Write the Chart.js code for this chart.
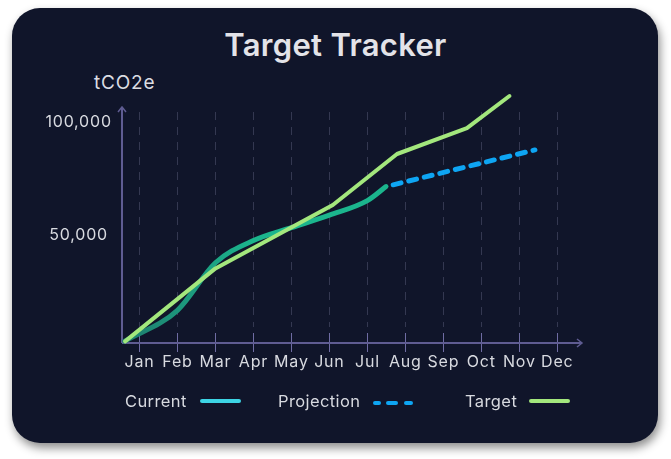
<!DOCTYPE html>
<html>
<head>
<meta charset="utf-8">
<script src="https://cdn.jsdelivr.net/npm/chart.js@4.4.0/dist/chart.umd.min.js"></script>
<style>
  html, body { margin: 0; padding: 0; width: 671px; height: 459px; overflow: hidden; background: #fff; font-family: Inter, sans-serif; }
  #card { position: absolute; left: 12px; top: 8px; width: 646px; height: 435px; background: #10152a; border-radius: 28px; box-shadow: 2px 5px 10px rgba(0,0,0,0.45); }
  #title { position: absolute; left: 0; top: 29px; width: 671px; text-align: center; color: #e3e3e8; font-size: 31px; line-height: 31px; font-weight: 600; letter-spacing: 0.3px; }
  #unit { position: absolute; left: 94px; top: 73px; color: #dcdde3; font-size: 19px; line-height: 19px; letter-spacing: 0.8px; }
  #wrap { position: absolute; left: 0; top: 0; width: 671px; height: 459px; }
  .lg { position: absolute; color: #d8dae0; font-size: 16.5px; line-height: 16.5px; top: 393px; letter-spacing: 0.4px; }
  .sw { position: absolute; height: 4px; border-radius: 2px; }
</style>
</head>
<body>
<div id="card"></div>
<div id="title">Target Tracker</div>
<div id="unit">tCO2e</div>
<div id="wrap"><canvas id="chart"></canvas></div>

<div class="lg" style="left:125px">Current</div>
<div class="sw" style="left:200px;top:399px;width:41px;background:#3dd4e4"></div>
<div class="lg" style="left:278px">Projection</div>
<div class="sw" style="left:373px;top:401px;width:8px;background:#0ea5f3"></div>
<div class="sw" style="left:386px;top:401px;width:12px;background:#0ea5f3"></div>
<div class="sw" style="left:404px;top:401px;width:9px;background:#0ea5f3"></div>
<div class="lg" style="left:465px">Target</div>
<div class="sw" style="left:529px;top:399px;width:41px;background:#a3e77d"></div>

<script>
const months = ['Jan', 'Feb', 'Mar', 'Apr', 'May', 'Jun', 'Jul', 'Aug', 'Sep', 'Oct', 'Nov', 'Dec'];
const monthTicks = [1, 2, 3, 4, 5, 6, 7, 8, 9, 10, 11, 12];
const yTicks = [50000, 100000];

// x positions are in months (Jan = 1)
const currentMonths = [0.61, 2.0, 3.0, 4.0, 5.0, 6.0, 7.0, 7.49];
const currentValues = [3350, 17000, 38000, 47800, 53500, 59000, 65400, 71600];

const projectionMonths = [7.68, 11.41];
const projectionValues = [72400, 87800];

const targetMonths = [0.62, 3.0, 6.09, 7.78, 9.62, 10.74];
const targetValues = [3300, 35500, 63500, 86000, 97400, 111600];

const toPoints = (xs, ys) => xs.map((x, i) => ({ x: x, y: ys[i] }));

const axisColor = '#5f5c92';
const tickColor = '#6f6ca3';
const gridColor = '#343851';
const labelColor = '#d8dae0';

// dashed month lines, tick marks and arrowed axes
const axesPlugin = {
  id: 'axes',
  beforeDraw(chart) {
    chart.ctx.letterSpacing = '0.8px';
  },
  beforeDatasetsDraw(chart) {
    const { ctx, chartArea, scales } = chart;
    const { left, right, top, bottom } = chartArea;
    ctx.save();
    ctx.lineWidth = 1;

    ctx.strokeStyle = gridColor;
    ctx.setLineDash([8, 7]);
    monthTicks.forEach(m => {
      const x = Math.round(scales.x.getPixelForValue(m)) + 0.5;
      ctx.beginPath();
      ctx.moveTo(x, top + 5);
      ctx.lineTo(x, bottom - 16);
      ctx.stroke();
    });
    ctx.setLineDash([]);

    ctx.strokeStyle = tickColor;
    monthTicks.forEach(m => {
      const x = Math.round(scales.x.getPixelForValue(m)) + 0.5;
      ctx.beginPath();
      ctx.moveTo(x, bottom - 10);
      ctx.lineTo(x, bottom + 9);
      ctx.stroke();
    });

    ctx.strokeStyle = axisColor;
    ctx.lineWidth = 2;
    ctx.beginPath();
    ctx.moveTo(left, bottom);
    ctx.lineTo(left, top);
    ctx.moveTo(left, bottom);
    ctx.lineTo(right, bottom);
    ctx.stroke();

    ctx.lineWidth = 1.5;
    ctx.beginPath();
    ctx.moveTo(left - 4, top + 5);
    ctx.lineTo(left, top);
    ctx.lineTo(left + 4, top + 5);
    ctx.moveTo(right - 5, bottom - 4);
    ctx.lineTo(right, bottom);
    ctx.lineTo(right - 5, bottom + 4);
    ctx.stroke();
    ctx.restore();
  }
};

function currentGradient(context) {
  const area = context.chart.chartArea;
  if (!area) return '#1bb58d';
  const g = context.chart.ctx.createLinearGradient(area.left, 0, area.left + 130, 0);
  g.addColorStop(0, '#1e7c6d');
  g.addColorStop(1, '#1bb58d');
  return g;
}

new Chart(document.getElementById('chart'), {
  type: 'line',
  data: {
    datasets: [
      {
        label: 'Target',
        data: toPoints(targetMonths, targetValues),
        borderColor: '#a3e77d',
        borderWidth: 4,
        tension: 0,
        borderJoinStyle: 'round',
        borderCapStyle: 'round',
        pointRadius: 0,
        clip: false
      },
      {
        label: 'Current',
        data: toPoints(currentMonths, currentValues),
        borderColor: currentGradient,
        borderWidth: 5,
        cubicInterpolationMode: 'monotone',
        borderCapStyle: 'round',
        pointRadius: 0,
        clip: false
      },
      {
        label: 'Projection',
        data: toPoints(projectionMonths, projectionValues),
        borderColor: '#0ea5f3',
        borderWidth: 5,
        borderDash: [8, 8],
        borderCapStyle: 'round',
        pointRadius: 0,
        clip: false
      }
    ]
  },
  options: {
    responsive: true,
    maintainAspectRatio: false,
    animation: false,
    layout: { padding: { left: 46, right: 89, top: 107, bottom: 76 } },
    plugins: { legend: { display: false }, tooltip: { enabled: false } },
    scales: {
      x: {
        type: 'linear',
        min: 0.54,
        max: 12.65,
        afterBuildTicks: axis => { axis.ticks = monthTicks.map(v => ({ value: v })); },
        afterFit: scale => { scale.height = 40; },
        grid: { display: false, drawTicks: false },
        border: { display: false },
        ticks: {
          autoSkip: false,
          maxRotation: 0,
          padding: 10,
          color: labelColor,
          font: { family: 'Inter', size: 16 },
          callback: v => months[monthTicks.indexOf(v)]
        }
      },
      y: {
        min: 2560,
        max: 106750,
        afterBuildTicks: axis => { axis.ticks = yTicks.map(v => ({ value: v })); },
        afterFit: scale => { scale.width = 76; },
        grid: { display: false, drawTicks: false },
        border: { display: false },
        ticks: {
          padding: 13,
          crossAlign: 'center',
          color: labelColor,
          font: { family: 'Inter', size: 16 },
          callback: v => v.toLocaleString('en-US')
        }
      }
    }
  },
  plugins: [axesPlugin]
});
</script>
</body>
</html>
